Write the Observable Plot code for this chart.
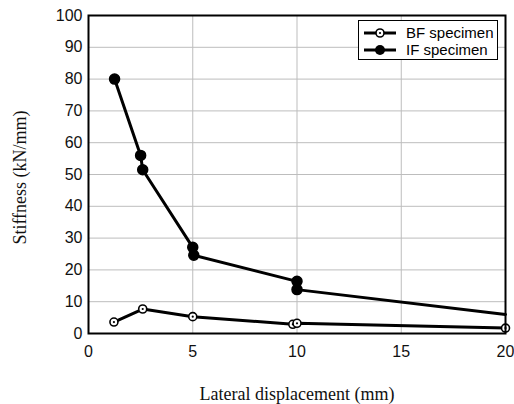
<!DOCTYPE html>
<html>
<head>
<meta charset="utf-8">
<script src="https://cdn.jsdelivr.net/npm/d3@7"></script>
<script src="https://cdn.jsdelivr.net/npm/@observablehq/plot@0.6"></script>
<style>
  body { margin: 0; background: #fff; }
  #wrap { position: relative; width: 514px; height: 404px; }
  #legend {
    position: absolute; left: 358px; top: 20px; width: 138px; height: 38px;
    border: 1.5px solid #000; background: #fff;
    font-family: "Liberation Sans", Arial, sans-serif; font-size: 15px; color: #000;
  }
  .row { position: absolute; left: 4px; display: flex; align-items: center; height: 17px; }
  .row span { margin-left: 9px; }
</style>
</head>
<body>
<div id="wrap"></div>
<script>
// Data
const bfX = [1.22, 2.6, 5.0, 9.8, 10.0, 20.0];
const bfY = [3.6, 7.7, 5.3, 2.9, 3.2, 1.7];
const ifX = [1.25, 2.5, 2.6, 5.0, 5.05, 10.0, 10.0, 20.0];
const ifY = [80, 56, 51.5, 27.1, 24.6, 16.4, 13.8, 6.0];
const ifMarked = [true, true, true, true, true, true, true, false];
const xTicks = [0, 5, 10, 15, 20];
const yTicks = [0, 10, 20, 30, 40, 50, 60, 70, 80, 90, 100];
const xLabel = "Lateral displacement (mm)";
const yLabel = "Stiffness (kN/mm)";
const seriesNames = ["BF specimen", "IF specimen"];

const bf = bfX.map((x, i) => ({x, y: bfY[i]}));
const iff = ifX.map((x, i) => ({x, y: ifY[i], marked: ifMarked[i]}));

const sans = "'Liberation Sans', Arial, sans-serif";
const serif = "'Liberation Serif', 'Times New Roman', serif";

const chart = Plot.plot({
  width: 514,
  height: 404,
  marginLeft: 88,
  marginRight: 9,
  marginTop: 15,
  marginBottom: 71,
  style: {background: "#fff", fontFamily: sans},
  x: {domain: [0, 20], ticks: xTicks},
  y: {domain: [0, 100], ticks: yTicks},
  marks: [
    Plot.gridX(xTicks, {stroke: "#bdbdbd", strokeOpacity: 1, strokeWidth: 1}),
    Plot.gridY(yTicks, {stroke: "#bdbdbd", strokeOpacity: 1, strokeWidth: 1}),
    Plot.axisX(xTicks, {tickSize: 0, tickPadding: 12, fontSize: 16, label: null, fill: "#111", fontFamily: sans}),
    Plot.axisY(yTicks, {tickSize: 0, tickPadding: 6, fontSize: 16, label: null, fill: "#111", fontFamily: sans}),
    Plot.line(iff, {x: "x", y: "y", stroke: "#000", strokeWidth: 3}),
    Plot.line(bf, {x: "x", y: "y", stroke: "#000", strokeWidth: 3}),
    Plot.dot(iff.filter(d => d.marked), {x: "x", y: "y", r: 5, fill: "#000", stroke: "#000"}),
    Plot.dot(bf, {x: "x", y: "y", r: 4, fill: "#fff", stroke: "#000", strokeWidth: 1.6}),
    Plot.dot(bf, {x: "x", y: "y", r: 1.1, fill: "#000"}),
    Plot.frame({stroke: "#000", strokeWidth: 2}),
    Plot.text([yLabel], {frameAnchor: "left", textAnchor: "middle", lineAnchor: "middle", dx: -68, dy: 3, rotate: -90, fontSize: 18, fontFamily: serif, fill: "#111"}),
    Plot.text([xLabel], {frameAnchor: "bottom", textAnchor: "middle", lineAnchor: "middle", dy: 61, fontSize: 18, fontFamily: serif, fill: "#111"})
  ]
});

const wrap = document.getElementById("wrap");
wrap.appendChild(chart);

const legend = document.createElement("div");
legend.id = "legend";
const sample = (open) => `<svg width="34" height="12"><line x1="1" y1="6" x2="33" y2="6" stroke="#000" stroke-width="3"/>` +
  (open ? `<circle cx="17" cy="6" r="4" fill="#fff" stroke="#000" stroke-width="1.6"/><circle cx="17" cy="6" r="1.1" fill="#000"/>`
        : `<circle cx="17" cy="6" r="5" fill="#000"/>`) + `</svg>`;
legend.innerHTML =
  `<div class="row" style="top:3px">${sample(true)}<span>${seriesNames[0]}</span></div>` +
  `<div class="row" style="top:20px">${sample(false)}<span>${seriesNames[1]}</span></div>`;
wrap.appendChild(legend);
</script>
</body>
</html>
